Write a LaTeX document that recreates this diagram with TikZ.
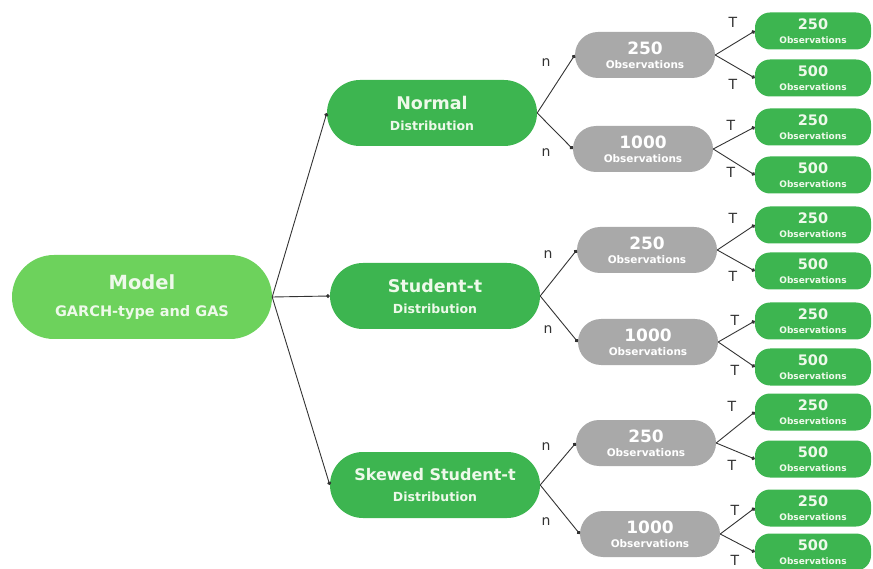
\documentclass[tikz,border=0pt]{standalone}
\usepackage{fontspec}
\setmainfont{DejaVu Sans}
\usetikzlibrary{arrows.meta}
\definecolor{modelgreen}{HTML}{6DD25C}
\definecolor{distgreen}{HTML}{3DB550}
\definecolor{obsgray}{HTML}{A9A9A9}
\definecolor{linegray}{HTML}{333333}
\definecolor{paletext}{HTML}{EEF9EA}
\tikzset{modelbox/.style={fill=modelgreen, rounded corners=42pt, minimum width=260pt, minimum height=84pt, inner sep=0pt, text=paletext, align=center, font=\fontsize{14.5}{27}\selectfont\bfseries}}
\tikzset{distbox/.style={fill=distgreen, rounded corners=33pt, minimum width=210pt, minimum height=66pt, inner sep=0pt, text=paletext, align=center, font=\fontsize{12.5}{21}\selectfont\bfseries}}
\tikzset{obsbox/.style={fill=obsgray, rounded corners=23pt, minimum width=140pt, minimum height=46pt, inner sep=0pt, text=white, align=center, font=\fontsize{10.5}{14}\selectfont\bfseries}}
\tikzset{leafbox/.style={fill=distgreen, rounded corners=15pt, minimum width=116pt, minimum height=37pt, inner sep=0pt, text=paletext, align=center, font=\fontsize{9}{13.5}\selectfont\bfseries}}
\tikzset{branch/.style={draw=linegray, line width=0.9pt, -{Circle[length=3.8pt]}}}
\tikzset{lbl/.style={text=linegray, inner sep=0pt, font=\fontsize{14}{14}\selectfont}}
\newcommand{\boxtext}[3]{{\fontsize{#1}{#1}\selectfont #2}\\#3}

\begin{document}
\begin{tikzpicture}[x=1pt,y=-1pt]
\useasboundingbox (0,0) rectangle (873,569);
% root
\node[modelbox] (model) at (142,297) {\boxtext{19.5}{Model}{GARCH-type and GAS}};
% distributions
\node[distbox] (nor) at (432,113) {\boxtext{17.5}{Normal}{Distribution}};
\node[distbox] (stu) at (435,296) {\boxtext{17.5}{Student-t}{Distribution}};
\node[distbox] (skw) at (435,485) {\boxtext{16}{Skewed Student-t}{Distribution}};
% estimation windows
\node[obsbox] (nor250) at (645,55) {\boxtext{17}{250}{Observations}};
\node[obsbox] (nor1000) at (643,149) {\boxtext{17}{1000}{Observations}};
\node[obsbox] (stu250) at (647,250) {\boxtext{17}{250}{Observations}};
\node[obsbox] (stu1000) at (648,342) {\boxtext{17}{1000}{Observations}};
\node[obsbox] (skw250) at (646,443) {\boxtext{17}{250}{Observations}};
\node[obsbox] (skw1000) at (650,534) {\boxtext{17}{1000}{Observations}};
% forecast windows
\foreach \p/\ya/\yb in {nor250/31/78, nor1000/127/175, stu250/225/271, stu1000/321/367, skw250/412/459, skw1000/508/552} {
    \node[leafbox] (\p a) at (813,\ya) {\boxtext{14.5}{250}{Observations}};
    \node[leafbox] (\p b) at (813,\yb) {\boxtext{14.5}{500}{Observations}};
    \draw[branch] (\p.east) -- (\p a.west);
    \draw[branch] (\p.east) -- (\p b.west);
}
\foreach \d in {nor, stu, skw} {
    \draw[branch] (model.east) -- (\d.west);
    \draw[branch] (\d.east) -- (\d250.west);
    \draw[branch] (\d.east) -- (\d1000.west);
}
% labels
\foreach \x/\y [count=\i] in {546/63, 546/153, 548/255, 548/330, 546/447, 546/522}
    \node[lbl] (n\i) at (\x,\y) {n};
\foreach \x/\y [count=\i] in {733/22, 733/84, 731/125, 731/172, 733/218, 733/276, 735/320, 735/370, 732/406, 732/465, 735/510, 735/560}
    \node[lbl] (t\i) at (\x,\y) {T};
\end{tikzpicture}
\end{document}
